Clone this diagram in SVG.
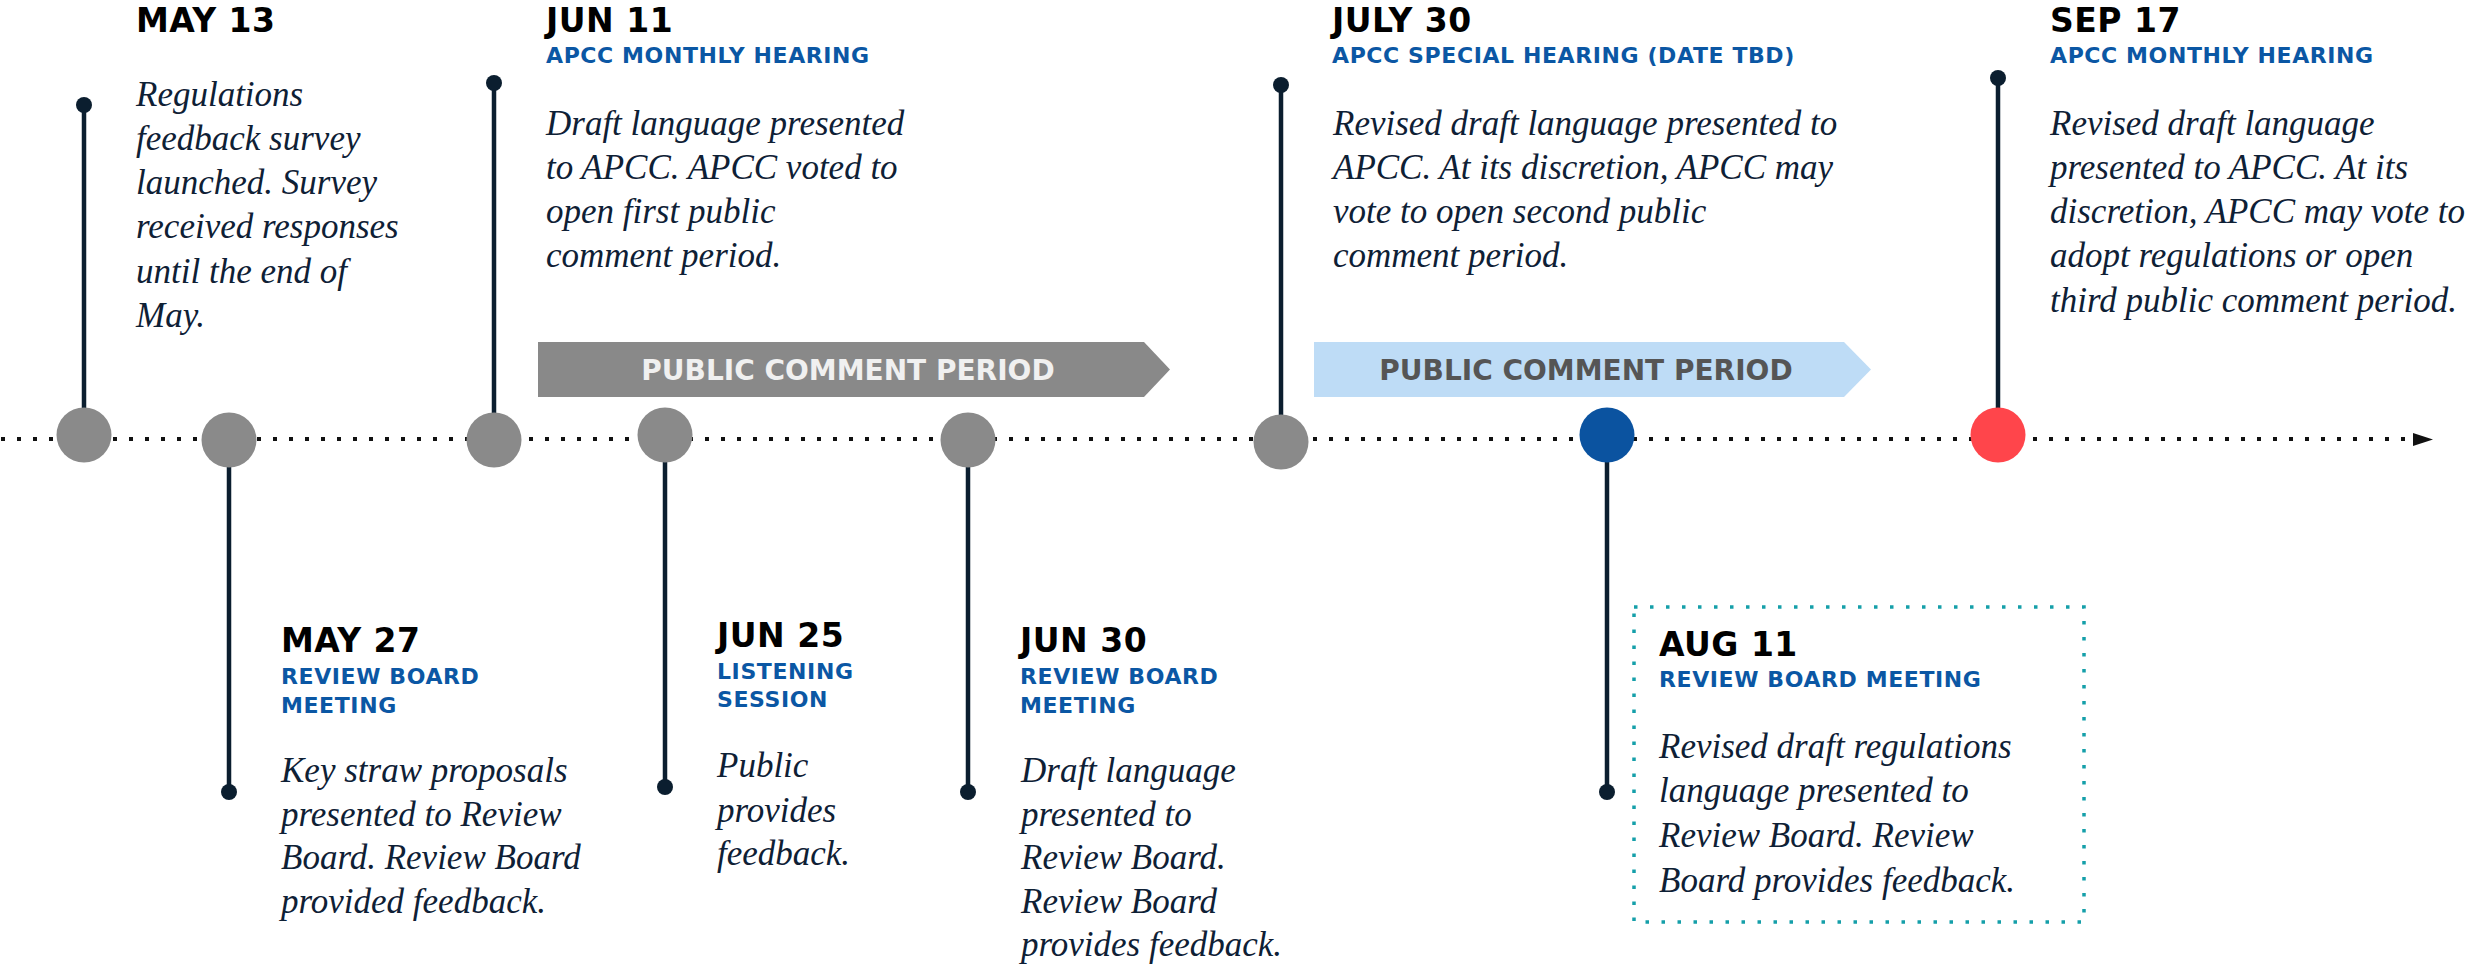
<svg xmlns="http://www.w3.org/2000/svg" width="2474" height="971" viewBox="0 0 2474 971">
<style>
.date{font-family:"DejaVu Sans",sans-serif;font-weight:bold;font-size:33px;fill:#000;letter-spacing:0.5px}
.sub{font-family:"DejaVu Sans",sans-serif;font-weight:bold;font-size:22px;fill:#0b57a4;letter-spacing:0.6px}
.body{font-family:"Liberation Serif",serif;font-style:italic;font-size:35px;fill:#0e2035}
.band{font-family:"DejaVu Sans",sans-serif;font-weight:bold;font-size:28px;text-anchor:middle}
.stem{stroke:#0b1e2f;stroke-width:4.5}
.cap{fill:#0b1e2f}
.node{fill:#8a8a8a}
</style>
<rect width="2474" height="971" fill="#fff"/>
<g id="connectors">
  <line x1="1" y1="439" x2="2408" y2="439" stroke="#111" stroke-width="4" stroke-dasharray="4 12"/>
  <polygon points="2413,433 2433,439.5 2413,446" fill="#111"/>
  <line class="stem" x1="84" y1="105" x2="84" y2="420"/>
  <circle class="cap" cx="84" cy="105" r="8"/>
  <line class="stem" x1="494" y1="83" x2="494" y2="425"/>
  <circle class="cap" cx="494" cy="83" r="8"/>
  <line class="stem" x1="1281" y1="85" x2="1281" y2="427"/>
  <circle class="cap" cx="1281" cy="85" r="8"/>
  <line class="stem" x1="1998" y1="78" x2="1998" y2="420"/>
  <circle class="cap" cx="1998" cy="78" r="8"/>
  <line class="stem" x1="229" y1="455" x2="229" y2="792"/>
  <circle class="cap" cx="229" cy="792" r="8"/>
  <line class="stem" x1="665" y1="450" x2="665" y2="787"/>
  <circle class="cap" cx="665" cy="787" r="8"/>
  <line class="stem" x1="968" y1="455" x2="968" y2="792"/>
  <circle class="cap" cx="968" cy="792" r="8"/>
  <line class="stem" x1="1607" y1="450" x2="1607" y2="792"/>
  <circle class="cap" cx="1607" cy="792" r="8"/>
</g>
<g id="period1">
  <polygon points="538,342 1144,342 1170,369.5 1144,397 538,397" fill="#898989"/>
  <text class="band" x="848" y="380" fill="#f0f0f0">PUBLIC COMMENT PERIOD</text>
</g>
<g id="period2">
  <polygon points="1314,342 1844,342 1871,369.5 1844,397 1314,397" fill="#bedcf6"/>
  <text class="band" x="1586" y="380" fill="#555555">PUBLIC COMMENT PERIOD</text>
</g>
<g id="may13">
  <circle class="node" cx="84" cy="435" r="27.5"/>
  <text class="date" x="136" y="32">MAY 13</text>
  <text class="body" x="136" y="106">Regulations<tspan x="136" y="150">feedback survey</tspan><tspan x="136" y="194">launched. Survey</tspan><tspan x="136" y="238">received responses</tspan><tspan x="136" y="283">until the end of</tspan><tspan x="136" y="327">May.</tspan></text>
</g>
<g id="may27">
  <circle class="node" cx="229" cy="440" r="27.5"/>
  <text class="date" x="281" y="652">MAY 27</text>
  <text class="sub" x="281" y="684">REVIEW BOARD<tspan x="281" y="713">MEETING</tspan></text>
  <text class="body" x="281" y="782">Key straw proposals<tspan x="281" y="826">presented to Review</tspan><tspan x="281" y="869">Board. Review Board</tspan><tspan x="281" y="913">provided feedback.</tspan></text>
</g>
<g id="jun11">
  <circle class="node" cx="494" cy="440" r="27.5"/>
  <text class="date" x="546" y="32">JUN 11</text>
  <text class="sub" x="546" y="63">APCC MONTHLY HEARING</text>
  <text class="body" x="546" y="135">Draft language presented<tspan x="546" y="179">to APCC. APCC voted to</tspan><tspan x="546" y="223">open first public</tspan><tspan x="546" y="267">comment period.</tspan></text>
</g>
<g id="jun25">
  <circle class="node" cx="665" cy="435" r="27.5"/>
  <text class="date" x="717" y="647">JUN 25</text>
  <text class="sub" x="717" y="679">LISTENING<tspan x="717" y="707">SESSION</tspan></text>
  <text class="body" x="717" y="777">Public<tspan x="717" y="822">provides</tspan><tspan x="717" y="865">feedback.</tspan></text>
</g>
<g id="jun30">
  <circle class="node" cx="968" cy="440" r="27.5"/>
  <text class="date" x="1020" y="652">JUN 30</text>
  <text class="sub" x="1020" y="684">REVIEW BOARD<tspan x="1020" y="713">MEETING</tspan></text>
  <text class="body" x="1021" y="782">Draft language<tspan x="1021" y="826">presented to</tspan><tspan x="1021" y="869">Review Board.</tspan><tspan x="1021" y="913">Review Board</tspan><tspan x="1021" y="956">provides feedback.</tspan></text>
</g>
<g id="jul30">
  <circle class="node" cx="1281" cy="442" r="27.5"/>
  <text class="date" x="1332" y="32">JULY 30</text>
  <text class="sub" x="1332" y="63">APCC SPECIAL HEARING (DATE TBD)</text>
  <text class="body" x="1333" y="135">Revised draft language presented to<tspan x="1333" y="179">APCC. At its discretion, APCC may</tspan><tspan x="1333" y="223">vote to open second public</tspan><tspan x="1333" y="267">comment period.</tspan></text>
</g>
<g id="aug11">
  <circle cx="1607" cy="435" r="27.5" fill="#0b53a0"/>
  <rect x="1634" y="607" width="450" height="315" fill="none" stroke="#159fa9" stroke-width="3.5" stroke-dasharray="3.5 12.5"/>
  <text class="date" x="1659" y="656">AUG 11</text>
  <text class="sub" x="1659" y="687">REVIEW BOARD MEETING</text>
  <text class="body" x="1659" y="758">Revised draft regulations<tspan x="1659" y="802">language presented to</tspan><tspan x="1659" y="847">Review Board. Review</tspan><tspan x="1659" y="892">Board provides feedback.</tspan></text>
</g>
<g id="sep17">
  <circle cx="1998" cy="435" r="27.5" fill="#ff454b"/>
  <text class="date" x="2050" y="32">SEP 17</text>
  <text class="sub" x="2050" y="63">APCC MONTHLY HEARING</text>
  <text class="body" x="2050" y="135">Revised draft language<tspan x="2050" y="179">presented to APCC. At its</tspan><tspan x="2050" y="223">discretion, APCC may vote to</tspan><tspan x="2050" y="267">adopt regulations or open</tspan><tspan x="2050" y="312">third public comment period.</tspan></text>
</g>
</svg>
